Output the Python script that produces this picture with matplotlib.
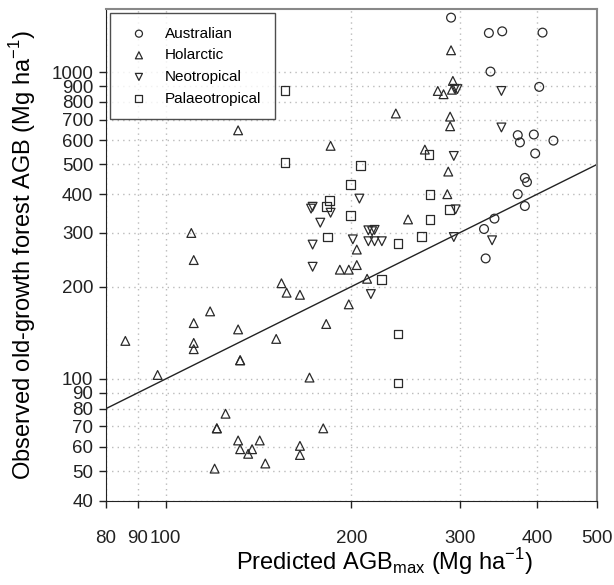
import matplotlib
matplotlib.use("Agg")
import matplotlib.pyplot as plt
import numpy as np
from matplotlib.ticker import FixedLocator, NullLocator, FixedFormatter

plt.rcParams['font.family'] = ['Liberation Sans', 'DejaVu Sans']

# Predicted AGBmax (x) and observed AGB (y), Mg/ha
aus_x = [290, 334, 351, 408, 336, 403, 372, 375, 395, 425, 397, 382, 385, 372, 382, 341, 328, 330]
aus_y = [1505, 1341, 1358, 1345, 1004, 895, 623, 590, 626, 598, 543, 452, 438, 400, 366, 333, 308, 247]

hol_x = [86, 111, 131, 111, 111, 97, 132, 132, 125, 121, 121, 131, 132, 142, 138, 136, 145, 120,
         110, 111, 118, 131, 151, 182, 171, 180, 165, 165, 154, 157, 165, 204, 191.5, 198, 204,
         212, 198, 247, 286, 287, 263, 289, 289, 236, 185, 276, 282, 292, 290, 291]
hol_y = [133, 152, 145, 131, 125, 103, 115, 115, 77, 69, 69, 63, 59, 63, 59, 57, 53, 51,
         299, 244, 166, 646, 135, 151, 101, 69, 60.5, 56.5, 205, 191, 188, 264, 227, 227, 235,
         212, 175, 331, 400, 474, 559, 716, 666, 733, 575, 868, 847, 936, 1178, 876]

neo_x = [172, 173, 185, 178, 206, 213, 216, 218, 173, 201, 213, 218, 224, 173, 215,
         294, 297, 350, 350, 293, 295, 293, 338]
neo_y = [359, 364, 348, 323, 387, 305, 303, 306, 274, 285, 281, 281, 281, 232, 189,
         882, 880, 868, 660, 533, 357, 290, 283]

pal_x = [156, 156, 207, 199, 184, 182, 199, 183, 238, 260, 224, 238, 238, 268, 268, 267, 288]
pal_y = [873, 506, 497, 430, 382, 364, 340, 290, 276, 292, 211, 140, 97, 399, 331, 540, 357]

xticks = [80, 90, 100, 200, 300, 400, 500]
yticks = [40, 50, 60, 70, 80, 90, 100, 200, 300, 400, 500, 600, 700, 800, 900, 1000]
one_to_one = [80, 500]

fig = plt.figure(figsize=(6.14, 5.85), dpi=100)
ax = fig.add_axes([0.1726, 0.1436, 0.7997, 0.8402])
ax.set_xscale('log')
ax.set_yscale('log')
ax.set_xlim(80, 500)
ax.set_ylim(40, 1600)

mk = dict(facecolors='none', edgecolors='#2a2a2a', linewidths=0.9, s=40, zorder=3)
ax.scatter(aus_x, aus_y, marker='o', label='Australian', **mk)
ax.scatter(hol_x, hol_y, marker='^', label='Holarctic', **mk)
ax.scatter(neo_x, neo_y, marker='v', label='Neotropical', **mk)
ax.scatter(pal_x, pal_y, marker='s', label='Palaeotropical', **mk)

ax.plot(one_to_one, one_to_one, color='#222222', lw=1.0, zorder=2)

ax.xaxis.set_major_locator(FixedLocator(xticks))
ax.xaxis.set_major_formatter(FixedFormatter([str(t) for t in xticks]))
ax.xaxis.set_minor_locator(NullLocator())
ax.yaxis.set_major_locator(FixedLocator(yticks))
ax.yaxis.set_major_formatter(FixedFormatter([str(t) for t in yticks]))
ax.yaxis.set_minor_locator(NullLocator())
ax.tick_params(axis='both', direction='out', length=5, width=1, labelsize=13.5, colors='#222222')
ax.tick_params(axis='x', pad=16)
ax.tick_params(axis='y', pad=4)

ax.grid(True, which='major', linestyle=(0, (1, 3)), color='#bbbbbb', lw=1.0)
for s in ['left', 'bottom']:
    ax.spines[s].set_color('#222222')
for s in ['top', 'right']:
    ax.spines[s].set_color('#888888')
    ax.spines[s].set_linewidth(1.5)

ax.set_xlabel('Predicted AGB$_{\\mathregular{max}}$ (Mg ha$^{\\mathregular{-1}}$)', fontsize=17)
ax.xaxis.set_label_coords(0.568, -0.092)
ax.set_ylabel('Observed old-growth forest AGB (Mg ha$^{\\mathregular{-1}}$)', fontsize=17, labelpad=10)

leg = ax.legend(loc='upper left', bbox_to_anchor=(0.008, 0.993), fontsize=11, frameon=True,
                fancybox=False, edgecolor='#222222', handletextpad=0.7, borderpad=0.9,
                labelspacing=0.5, markerscale=0.8, borderaxespad=0)
leg.get_frame().set_linewidth(1.0)

fig.savefig('out.png', dpi=100)
